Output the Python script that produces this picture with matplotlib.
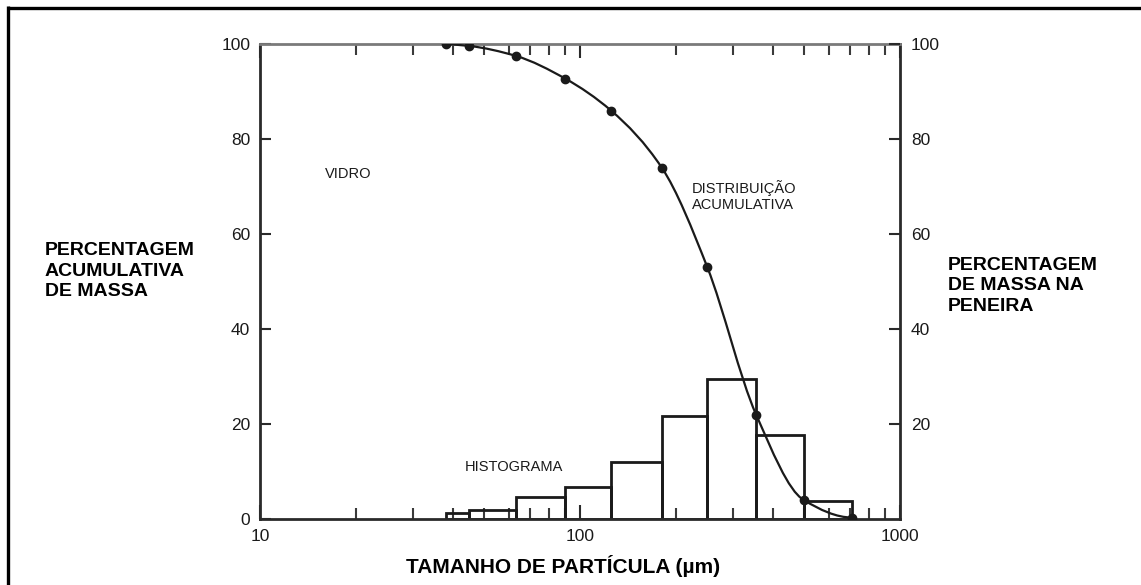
# -*- coding: utf-8 -*-
""" Distribuição granulométrica do vidro: histograma + curva acumulativa
"""

import numpy as np
import matplotlib
matplotlib.use("Agg")
import matplotlib.pyplot as plt
from matplotlib.path import Path
from matplotlib.patches import PathPatch
from matplotlib.lines import Line2D

# Aberturas das peneiras (µm) e massa retida em cada faixa (%)
sieve_edges = [38, 45, 63, 90, 125, 180, 250, 355, 500, 710]
mass_retained = [1.3, 2.0, 4.6, 6.8, 11.9, 21.6, 29.5, 17.6, 3.7]

# Percentagem acumulativa de massa em cada abertura
cum_sizes = [38, 45, 63, 90, 125, 180, 250, 355, 500, 710]
cum_mass = [100, 99.6, 97.5, 92.7, 86.0, 74.0, 53.0, 22.0, 4.0, 0.3]

left_ticks = [0, 20, 40, 60, 80, 100]
right_ticks = [20, 40, 60, 80, 100]
x_ticks = [10, 100, 1000]

font = "Liberation Sans"
ink = "#1a1a1a"


def smooth_path(xs, ys):
    # monotone cubic through the points, built in log-x space as Bezier segments
    lx = np.log10(np.asarray(xs, float))
    y = np.asarray(ys, float)
    h = np.diff(lx)
    d = np.diff(y) / h
    m = np.zeros_like(y)
    m[0] = d[0]
    m[-1] = 0.0
    for i in range(1, len(y) - 1):
        if d[i - 1] * d[i] <= 0:
            m[i] = 0.0
        else:
            w1 = 2 * h[i] + h[i - 1]
            w2 = h[i] + 2 * h[i - 1]
            m[i] = (w1 + w2) / (w1 / d[i - 1] + w2 / d[i])
    verts = [(xs[0], y[0])]
    codes = [Path.MOVETO]
    for i in range(len(h)):
        c1 = (lx[i] + h[i] / 3, y[i] + m[i] * h[i] / 3)
        c2 = (lx[i + 1] - h[i] / 3, y[i + 1] - m[i + 1] * h[i] / 3)
        verts += [(10 ** c1[0], c1[1]), (10 ** c2[0], c2[1]), (xs[i + 1], y[i + 1])]
        codes += [Path.CURVE4] * 3
    return Path(verts, codes)


W, H = 1141, 585
fig = plt.figure(figsize=(W / 100, H / 100), dpi=100)
fig.patch.set_facecolor("white")

ax = fig.add_axes([260 / W, 1 - 519 / H, 640 / W, 475 / H])
ax.set_xscale("log")
ax.set_xlim(10, 1000)
ax.set_ylim(0, 100)

# histograma
widths = np.diff(sieve_edges)
ax.bar(sieve_edges[:-1], mass_retained, width=widths, align="edge",
       fill=False, edgecolor=ink, linewidth=2.0, zorder=2)

# curva acumulativa
ax.add_patch(PathPatch(smooth_path(cum_sizes, cum_mass), facecolor="none",
                       edgecolor=ink, linewidth=1.6, zorder=3))
ax.plot(cum_sizes, cum_mass, "o", color=ink, markersize=6, zorder=4)

# eixos
for side in ["left", "bottom", "right"]:
    ax.spines[side].set_linewidth(2.0)
    ax.spines[side].set_color("#2a2a2a")
ax.spines["top"].set_linewidth(2.0)
ax.spines["top"].set_color("#7a7a7a")

ax.set_xticks(x_ticks)
ax.set_xticklabels([str(t) for t in x_ticks])
ax.set_yticks(left_ticks)
ax.set_yticklabels([str(t) for t in left_ticks])
ax.tick_params(which="major", direction="in", length=10, width=1.5,
               top=True, right=False, color="#2a2a2a",
               labelsize=12.5, labelcolor=ink, pad=7)
ax.tick_params(which="minor", direction="in", length=8, width=1.5,
               top=True, color="#3a3a3a")
ax.tick_params(axis="y", length=8)
for lbl in ax.get_xticklabels() + ax.get_yticklabels():
    lbl.set_fontfamily(font)

ax2 = ax.twinx()
ax2.set_ylim(0, 100)
ax2.set_yticks(right_ticks)
ax2.set_yticklabels([str(t) for t in right_ticks])
ax2.tick_params(direction="in", length=8, width=1.5, color="#2a2a2a",
                labelsize=12.5, labelcolor=ink, pad=8)
for lbl in ax2.get_yticklabels():
    lbl.set_fontfamily(font)
for sp in ax2.spines.values():
    sp.set_visible(False)

# rótulos dentro do gráfico
ax.text(16, 72.6, "VIDRO", fontsize=10.5, family=font, color=ink, va="center")
ax.text(224, 68, "DISTRIBUIÇÃO\nACUMULATIVA", fontsize=10.5, family=font,
        color=ink, va="center", linespacing=1.25)
ax.text(43.7, 10.9, "HISTOGRAMA", fontsize=10.5, family=font, color=ink,
        va="center")

# títulos dos eixos
fig.text(45 / W, 1 - 271 / H, "PERCENTAGEM\nACUMULATIVA\nDE MASSA",
         fontsize=14, weight="bold", family=font, ha="left", va="center",
         linespacing=1.25, color="black")
fig.text(948 / W, 1 - 286 / H, "PERCENTAGEM\nDE MASSA NA\nPENEIRA",
         fontsize=14, weight="bold", family=font, ha="left", va="center",
         linespacing=1.25, color="black")
fig.text(563 / W, 1 - 566 / H, "TAMANHO DE PARTÍCULA (µm)", fontsize=15,
         weight="bold", family=font, ha="center", va="center", color="black")

# moldura
fig.add_artist(Line2D([7.5 / W, 1], [1 - 7.5 / H, 1 - 7.5 / H],
                      transform=fig.transFigure, color="black", linewidth=2.4,
                      solid_capstyle="butt"))
fig.add_artist(Line2D([7.5 / W, 7.5 / W], [0, 1 - 6 / H],
                      transform=fig.transFigure, color="black", linewidth=2.4,
                      solid_capstyle="butt"))

fig.savefig("out.png", dpi=100)
